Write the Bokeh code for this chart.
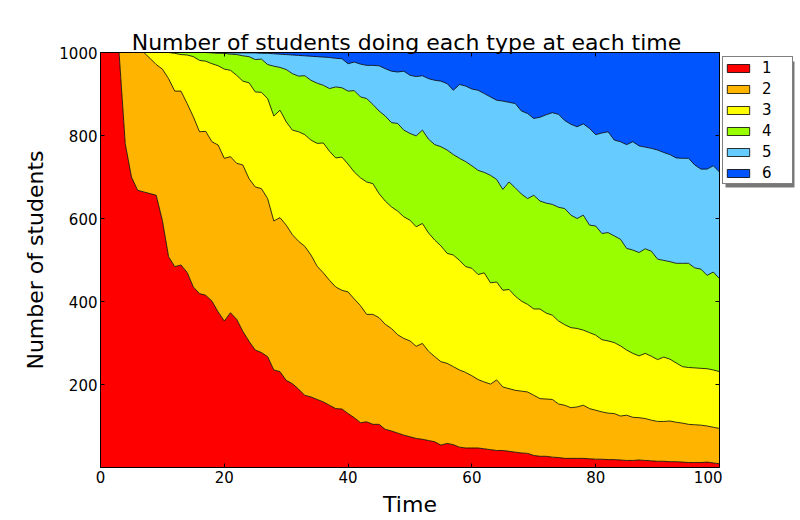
import numpy as np
from bokeh.plotting import figure
from bokeh.layouts import row
from bokeh.models import (Range1d, FixedTicker, LinearAxis, Legend, LegendItem,
                          ColumnDataSource, BoxAnnotation)
from bokeh.embed import file_html
from bokeh.resources import INLINE

# ---------------- data ----------------
time = list(range(0, 101))
type_labels = ["1", "2", "3", "4", "5", "6"]
type_colors = ["#ff0000", "#ffb400", "#ffff00", "#99ff00", "#66ccff", "#0055ff"]
x_ticks = [0, 20, 40, 60, 80, 100]
y_ticks = [200, 400, 600, 800, 1000]
total_students = 1000

# cumulative top of each band (number of students of type <= k)
top_type1 = [1000, 1000, 1000, 1000, 780, 700, 668, 664, 660, 656,
             595, 508, 484, 488, 470, 435, 419, 415, 401, 375,
             353, 373, 357, 328, 304, 283, 277, 267, 235, 231,
             210, 202, 189, 174, 170, 164, 158, 150, 142, 141,
             130, 120, 108, 110, 104, 104, 92, 88, 83, 78,
             74, 70, 68, 65, 62, 54, 58, 55, 49, 47,
             47, 47, 45, 43, 41, 41, 39, 37, 35, 34,
             29, 27, 27, 25, 24, 22, 22, 22, 22, 21,
             20, 20, 19, 19, 18, 17, 17, 18, 17, 16,
             15, 15, 14, 14, 13, 12, 12, 12, 13, 11,
             9]
top_type2 = [1000, 1000, 1000, 1000, 1000, 1000, 1000, 1000, 986, 971,
             960, 937, 907, 907, 877, 845, 809, 810, 785, 777,
             745, 749, 733, 729, 696, 676, 672, 648, 594, 602,
             584, 561, 545, 533, 512, 485, 469, 451, 435, 427,
             423, 406, 390, 369, 369, 361, 345, 335, 320, 311,
             305, 292, 299, 280, 267, 255, 251, 243, 235, 229,
             221, 212, 206, 201, 211, 194, 190, 186, 184, 182,
             174, 166, 165, 164, 153, 150, 144, 146, 150, 142,
             138, 134, 131, 130, 124, 126, 121, 120, 118, 114,
             111, 111, 112, 109, 107, 104, 103, 102, 100, 97,
             94]
top_type3 = [1000, 1000, 1000, 1000, 1000, 1000, 1000, 1000, 1000, 1000,
             1000, 1000, 998, 995, 994, 990, 981, 979, 973, 968,
             960, 957, 945, 931, 927, 905, 904, 889, 847, 861,
             833, 813, 809, 802, 789, 781, 782, 762, 746, 748,
             731, 712, 698, 688, 684, 660, 642, 628, 618, 604,
             596, 580, 588, 565, 548, 534, 516, 512, 499, 484,
             480, 465, 469, 445, 447, 427, 429, 413, 401, 393,
             382, 382, 372, 367, 353, 344, 337, 335, 331, 325,
             319, 308, 305, 301, 293, 283, 275, 269, 275, 268,
             260, 266, 261, 252, 243, 241, 240, 239, 238, 235,
             231]
top_type4 = [1000, 1000, 1000, 1000, 1000, 1000, 1000, 1000, 1000, 1000,
             1000, 1000, 1000, 1000, 1000, 1000, 1000, 1000, 999, 998,
             998, 996, 995, 992, 990, 983, 984, 971, 967, 964,
             959, 949, 943, 944, 933, 926, 921, 913, 917, 915,
             907, 908, 893, 889, 875, 859, 847, 831, 829, 813,
             805, 799, 813, 791, 778, 773, 765, 754, 745, 737,
             727, 716, 711, 704, 694, 670, 688, 674, 659, 648,
             656, 642, 637, 634, 627, 624, 608, 600, 608, 584,
             582, 564, 566, 558, 550, 528, 524, 518, 527, 521,
             502, 499, 496, 492, 492, 492, 481, 478, 463, 471,
             455]
top_type5 = [1000, 1000, 1000, 1000, 1000, 1000, 1000, 1000, 1000, 1000,
             1000, 1000, 1000, 1000, 1000, 1000, 1000, 1000, 1000, 1000,
             1000, 999, 999, 999, 999, 999, 998, 998, 997, 996,
             995, 994, 993, 992, 991, 990, 989, 988, 986, 985,
             973, 977, 972, 969, 969, 968, 961, 955, 953, 955,
             945, 942, 944, 937, 933, 931, 925, 909, 923, 919,
             912, 909, 901, 893, 885, 883, 880, 877, 859, 853,
             841, 844, 850, 855, 851, 836, 827, 821, 828, 817,
             802, 806, 809, 789, 785, 778, 785, 775, 772, 769,
             765, 759, 754, 746, 745, 745, 729, 719, 719, 727,
             712]

# ---------------- per-type counts for the stack ----------------
tops = [np.array(top_type1), np.array(top_type2), np.array(top_type3),
        np.array(top_type4), np.array(top_type5),
        np.full(len(time), total_students)]
cols = ["c" + lab for lab in type_labels]
data = {"time": time}
prev = np.zeros(len(time))
for c, top in zip(cols, tops):
    data[c] = top - prev
    prev = top
src = ColumnDataSource(data)

FONT = "DejaVu Sans"

p = figure(width=722, height=520, output_backend="svg", toolbar_location=None,
           x_range=Range1d(0, 100), y_range=Range1d(0, 1000),
           min_border_left=100, min_border_right=3, min_border_top=52,
           min_border_bottom=53,
           title="Number of students  doing each type at each time")

p.varea_stack(stackers=cols, x="time", color=type_colors, source=src)
p.vline_stack(stackers=cols[:5], x="time", color="black", line_width=0.8,
              source=src)

p.grid.visible = False
p.background_fill_color = "white"
p.border_fill_color = "white"
p.outline_line_color = "black"
p.outline_line_width = 1

p.title.text_font = FONT
p.title.text_font_size = "22px"
p.title.text_font_style = "normal"
p.title.text_color = "black"
p.title.align = "center"
p.title.standoff = -4

def style_axis(ax, ticks, show_labels):
    ax.ticker = FixedTicker(ticks=ticks)
    ax.major_tick_in = 4
    ax.major_tick_out = 0
    ax.minor_tick_in = 0
    ax.minor_tick_out = 0
    ax.major_tick_line_color = "black"
    ax.axis_line_color = "black"
    ax.major_label_text_font = FONT
    ax.major_label_text_color = "black"
    ax.major_label_standoff = 3
    ax.major_label_text_font_size = "15px"
    if not show_labels:
        # tick marks only: labels are not drawn
        ax.major_label_text_color = None
        ax.major_label_text_font_size = "1px"
        ax.major_label_standoff = 0

xa = p.xaxis[0]
ya = p.yaxis[0]
style_axis(xa, x_ticks, True)
style_axis(ya, y_ticks, True)
xa.axis_label = "Time"
ya.axis_label = "Number of students"
for ax in (xa, ya):
    ax.axis_label_text_font = FONT
    ax.axis_label_text_font_size = "22px"
    ax.axis_label_text_font_style = "normal"
    ax.axis_label_text_color = "black"
xa.axis_label_standoff = 6
ya.axis_label_standoff = 8

top_ax = LinearAxis()
right_ax = LinearAxis()
style_axis(top_ax, x_ticks, False)
style_axis(right_ax, y_ticks, False)
p.add_layout(top_ax, "above")
p.add_layout(right_ax, "right")

# ---------------- legend, in a narrow companion figure ----------------
# (its frame is aligned with the main frame: 415 px tall, starting at the top of the plot)
pl = figure(width=78, height=520, output_backend="svg", toolbar_location=None,
            x_range=Range1d(0, 1), y_range=Range1d(0, 1),
            x_axis_location=None, y_axis_location=None,
            min_border_left=0, min_border_right=0, min_border_top=0,
            min_border_bottom=0)
pl.grid.visible = False
pl.outline_line_color = None
pl.background_fill_color = "white"
pl.border_fill_color = "white"

items = []
for lab, col in zip(type_labels, type_colors):
    r = pl.quad(left=[np.nan], right=[np.nan], top=[np.nan], bottom=[np.nan],
                fill_color=col, line_color="black", line_width=0.8)
    items.append(LegendItem(label=lab, renderers=[r]))

LEG_X, LEG_Y, LEG_W, LEG_H = 0, 283, 69, 126
shadow = BoxAnnotation(left=LEG_X + 3, right=LEG_X + LEG_W + 3,
                       bottom=LEG_Y - 3, top=LEG_Y + LEG_H - 3,
                       left_units="screen", right_units="screen",
                       bottom_units="screen", top_units="screen",
                       fill_color="#555555", fill_alpha=0.8,
                       line_color=None)
legend = Legend(items=items, location=(LEG_X, LEG_Y), margin=0, padding=1,
                spacing=2, glyph_width=28, glyph_height=10,
                label_height=19, label_width=29, label_standoff=10,
                label_text_font=FONT, label_text_font_size="15px",
                label_text_color="black",
                border_line_color="black", border_line_width=1,
                background_fill_color="white", background_fill_alpha=1.0)
pl.add_layout(shadow)
pl.add_layout(legend, "center")

layout = row(p, pl)
open("out.html", "w").write(file_html(layout, INLINE))
